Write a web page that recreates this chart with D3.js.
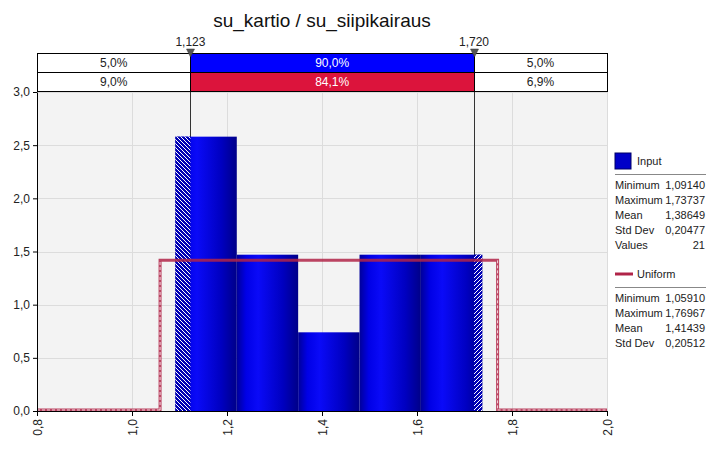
<!DOCTYPE html>
<html>
<head>
<meta charset="utf-8">
<script src="https://cdn.jsdelivr.net/npm/d3@7"></script>
<style>
  body { margin: 0; background: #fff; }
  text { font-family: "Liberation Sans", Arial, sans-serif; }
</style>
</head>
<body>
<figure id="chart" style="margin:0"></figure>
<script>
// histogram bins (input values) and density heights
var binEdges = [1.0914, 1.2206, 1.3498, 1.4790, 1.6082, 1.73737];
var binHeights = [2.58, 1.47, 0.74, 1.47, 1.47];

// uniform fit drawn as a step line
var uniformX = [0.8, 1.0591, 1.0591, 1.76967, 1.76967, 2.0];
var uniformY = [0, 0, 1.4073, 1.4073, 0, 0];

// delimiters and the percentage bands above the plot
var delimiters = [1.123, 1.720];
var inputPct = ["5,0%", "90,0%", "5,0%"];
var fitPct = ["9,0%", "84,1%", "6,9%"];

var xTicks = [0.8, 1.0, 1.2, 1.4, 1.6, 1.8, 2.0];
var yTicks = [0, 0.5, 1.0, 1.5, 2.0, 2.5, 3.0];

var inputStats = [["Minimum", "1,09140"], ["Maximum", "1,73737"], ["Mean", "1,38649"], ["Std Dev", "0,20477"], ["Values", "21"]];
var uniformStats = [["Minimum", "1,05910"], ["Maximum", "1,76967"], ["Mean", "1,41439"], ["Std Dev", "0,20512"]];

function drawChart() {
var W = 722, H = 450;
var pl = 37, pr = 607, pt = 92, pb = 411;

var fmt = function(v) { return d3.format(".1f")(v).replace(".", ","); };

var svg = d3.select("figure#chart")
  .append("svg")
  .attr("width", W)
  .attr("height", H);

var x = d3.scaleLinear().domain([0.8, 2.0]).range([pl, pr]);
var y = d3.scaleLinear().domain([0, 3.0]).range([pb, pt]);

// gradients and hatch patterns
var defs = svg.append("defs");
var grad = defs.append("linearGradient").attr("id", "barGrad")
  .attr("x1", "0").attr("x2", "1").attr("y1", "0").attr("y2", "0");
grad.append("stop").attr("offset", "0%").attr("stop-color", "#00009a");
grad.append("stop").attr("offset", "15%").attr("stop-color", "#0000e6");
grad.append("stop").attr("offset", "35%").attr("stop-color", "#0a0af8");
grad.append("stop").attr("offset", "75%").attr("stop-color", "#0000c0");
grad.append("stop").attr("offset", "100%").attr("stop-color", "#000088");

function hatch(id, flip) {
  var p = defs.append("pattern").attr("id", id)
    .attr("patternUnits", "userSpaceOnUse")
    .attr("width", 4).attr("height", 4);
  p.append("rect").attr("width", 4).attr("height", 4).attr("fill", "#0000b4");
  p.append("path")
    .attr("d", flip ? "M-1,1 L1,-1 M0,4 L4,0 M3,5 L5,3" : "M-1,3 L1,5 M0,0 L4,4 M3,-1 L5,1")
    .attr("stroke", "#fff").attr("stroke-width", 1);
}
hatch("hatchL", false);
hatch("hatchR", true);

// plot background and grid
svg.append("rect")
  .attr("x", pl).attr("y", pt)
  .attr("width", pr - pl).attr("height", pb - pt)
  .attr("fill", "#f3f3f3");

svg.append("g")
  .selectAll("line")
  .data(xTicks.slice(1))
  .enter().append("line")
  .attr("x1", function(d) { return Math.round(x(d)) + 0.5; }).attr("x2", function(d) { return Math.round(x(d)) + 0.5; })
  .attr("y1", pt).attr("y2", pb)
  .attr("stroke", "#dcdcdc");

svg.append("g")
  .selectAll("line")
  .data(yTicks.slice(1))
  .enter().append("line")
  .attr("x1", pl).attr("x2", pr)
  .attr("y1", function(d) { return Math.round(y(d)) + 0.5; }).attr("y2", function(d) { return Math.round(y(d)) + 0.5; })
  .attr("stroke", "#dcdcdc");

// delimiter lines
svg.append("g")
  .selectAll("line")
  .data(delimiters)
  .enter().append("line")
  .attr("x1", function(d) { return Math.round(x(d)) + 0.5; })
  .attr("x2", function(d) { return Math.round(x(d)) + 0.5; })
  .attr("y1", 52).attr("y2", pb)
  .attr("stroke", "#333");

// histogram bars
var bins = binHeights.map(function(h, i) { return {x0: binEdges[i], x1: binEdges[i + 1], h: h}; });

svg.append("g")
  .selectAll("rect")
  .data(bins)
  .enter().append("rect")
  .attr("x", function(d) { return x(d.x0); })
  .attr("y", function(d) { return y(d.h); })
  .attr("width", function(d) { return x(d.x1) - x(d.x0); })
  .attr("height", function(d) { return y(0) - y(d.h); })
  .attr("fill", "url(#barGrad)");

// hatched parts outside the delimiters
var first = bins[0], last = bins[bins.length - 1];
svg.append("rect")
  .attr("x", x(first.x0)).attr("y", y(first.h))
  .attr("width", x(delimiters[0]) - x(first.x0))
  .attr("height", y(0) - y(first.h))
  .attr("fill", "url(#hatchL)");
svg.append("rect")
  .attr("x", x(delimiters[1])).attr("y", y(last.h))
  .attr("width", x(last.x1) - x(delimiters[1]))
  .attr("height", y(0) - y(last.h))
  .attr("fill", "url(#hatchR)");

// uniform fit line
var pts = uniformX.map(function(v, i) { return [v, uniformY[i]]; });
var line = d3.line().x(function(d) { return x(d[0]); }).y(function(d) { return y(d[1]) - 1; });

svg.append("path")
  .datum(pts)
  .attr("d", line)
  .attr("fill", "none")
  .attr("stroke", "#b02448")
  .attr("stroke-width", 3)
  .attr("opacity", 0.85);

// dashed white overlay on vertical and zero segments
[[0, 1], [1, 2], [3, 4], [4, 5]].forEach(function(s) {
  svg.append("path")
    .datum([pts[s[0]], pts[s[1]]])
    .attr("d", line)
    .attr("fill", "none")
    .attr("stroke", "#fff")
    .attr("stroke-width", 0.8)
    .attr("stroke-dasharray", "3,2");
});

// axes
var yAxis = svg.append("g")
  .attr("transform", "translate(" + pl + ",0)")
  .call(d3.axisLeft(y).tickValues(yTicks).tickFormat(fmt).tickSize(4).tickSizeOuter(0));
yAxis.select(".domain").attr("stroke", "#000");
yAxis.selectAll("text").attr("font-size", 12).attr("fill", "#222").attr("font-family", "Liberation Sans, Arial, sans-serif");

var xAxis = svg.append("g")
  .attr("transform", "translate(0," + pb + ")")
  .call(d3.axisBottom(x).tickValues(xTicks).tickFormat(fmt).tickSize(5).tickSizeOuter(0));
xAxis.select(".domain").attr("stroke", "#000");
xAxis.selectAll("text")
  .attr("font-size", 12).attr("fill", "#222").attr("font-family", "Liberation Sans, Arial, sans-serif")
  .attr("transform", "rotate(-90)")
  .attr("text-anchor", "end")
  .attr("x", -8).attr("y", 0).attr("dy", "0.35em");

// percentage band above the plot
var bandX = [0.8, delimiters[0], delimiters[1], 2.0];
var rows = [{vals: inputPct, fill: "#0000ff", y0: 53}, {vals: fitPct, fill: "#dc143c", y0: 72}];
rows.forEach(function(r) {
  var g = svg.append("g");
  g.selectAll("rect")
    .data(r.vals)
    .enter().append("rect")
    .attr("x", function(d, i) { return Math.round(x(bandX[i])) + 0.5; })
    .attr("y", r.y0 + 0.5)
    .attr("width", function(d, i) { return Math.round(x(bandX[i + 1])) - Math.round(x(bandX[i])); })
    .attr("height", 19)
    .attr("fill", function(d, i) { return i == 1 ? r.fill : "#fff"; })
    .attr("stroke", "#000");
  g.selectAll("text")
    .data(r.vals)
    .enter().append("text")
    .attr("x", function(d, i) { return (x(bandX[i]) + x(bandX[i + 1])) / 2; })
    .attr("y", r.y0 + 14)
    .attr("text-anchor", "middle")
    .attr("font-size", 12)
    .attr("fill", function(d, i) { return i == 1 ? "#fff" : "#222"; })
    .text(function(d) { return d; });
});

// delimiter markers and labels
svg.append("g")
  .selectAll("path")
  .data(delimiters)
  .enter().append("path")
  .attr("d", function(d) { var cx = Math.round(x(d)) + 0.5; return "M" + (cx - 4) + ",49 L" + (cx + 4) + ",49 L" + cx + ",57 Z"; })
  .attr("fill", "#555").attr("stroke", "#333").attr("stroke-width", 0.5);
svg.append("g")
  .selectAll("text")
  .data(delimiters)
  .enter().append("text")
  .attr("x", function(d) { return x(d); })
  .attr("y", 46)
  .attr("text-anchor", "middle")
  .attr("font-size", 12)
  .attr("fill", "#222")
  .text(function(d) { return d3.format(".3f")(d).replace(".", ","); });

// title
svg.append("text")
  .attr("x", (pl + pr) / 2)
  .attr("y", 27)
  .attr("text-anchor", "middle")
  .attr("font-size", 19)
  .attr("fill", "#111")
  .text("su_kartio / su_siipikairaus");

// legend
var lg = svg.append("g").attr("font-size", 11).attr("fill", "#222");
lg.append("rect").attr("x", 615).attr("y", 153).attr("width", 16).attr("height", 16)
  .attr("fill", "#0000c8").attr("stroke", "#000066");
lg.append("text").attr("x", 637).attr("y", 165).text("Input");
lg.append("line").attr("x1", 615).attr("x2", 706).attr("y1", 174.5).attr("y2", 174.5).attr("stroke", "#888");
inputStats.forEach(function(s, i) {
  lg.append("text").attr("x", 615).attr("y", 189 + i * 15).text(s[0]);
  lg.append("text").attr("x", 705).attr("y", 189 + i * 15).attr("text-anchor", "end").text(s[1]);
});

lg.append("line").attr("x1", 615).attr("x2", 633).attr("y1", 274).attr("y2", 274)
  .attr("stroke", "#b02448").attr("stroke-width", 3);
lg.append("text").attr("x", 637).attr("y", 278).text("Uniform");
lg.append("line").attr("x1", 615).attr("x2", 706).attr("y1", 287.5).attr("y2", 287.5).attr("stroke", "#888");
uniformStats.forEach(function(s, i) {
  lg.append("text").attr("x", 615).attr("y", 302 + i * 15).text(s[0]);
  lg.append("text").attr("x", 705).attr("y", 302 + i * 15).attr("text-anchor", "end").text(s[1]);
});
} // end drawChart

drawChart();
</script>
</body>
</html>
